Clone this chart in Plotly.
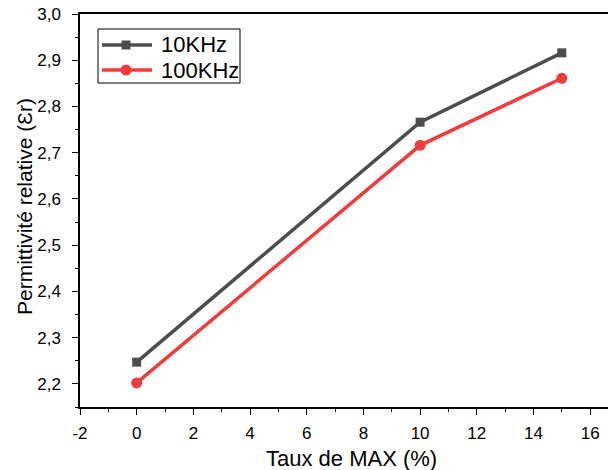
import plotly.graph_objects as go

taux = [0, 10, 15]
eps_10k = [2.247, 2.766, 2.916]
eps_100k = [2.202, 2.716, 2.861]
series_names = ["10KHz", "100KHz"]
x_ticks = [-2, 0, 2, 4, 6, 8, 10, 12, 14, 16]
x_ticklabels = ["-2", "0", "2", "4", "6", "8", "10", "12", "14", "16"]
y_ticks = [2.2, 2.3, 2.4, 2.5, 2.6, 2.7, 2.8, 2.9, 3.0]
y_ticklabels = ["2,2", "2,3", "2,4", "2,5", "2,6", "2,7", "2,8", "2,9", "3,0"]

W, H = 608, 470
L, T, B = 80, 14, 63
pw = W - L
ph = H - T - B
GRAY = "#4d4d4d"
RED = "#f03c3c"


def px(x):
    return (x - L) / pw


def py(y):
    return (H - B - y) / ph


fig = go.Figure()
fig.add_trace(go.Scatter(x=taux, y=eps_10k, mode="lines+markers", name=series_names[0],
                         line=dict(color=GRAY, width=3.5),
                         marker=dict(symbol="square", size=9, color=GRAY)))
fig.add_trace(go.Scatter(x=taux, y=eps_100k, mode="lines+markers", name=series_names[1],
                         line=dict(color=RED, width=3.5),
                         marker=dict(symbol="circle", size=11, color=RED)))

axis_common = dict(showline=True, linecolor="black", linewidth=1.5, ticks="outside",
                   ticklen=6, tickwidth=1.2, tickcolor="black", showgrid=False,
                   zeroline=False, automargin=False, ticklabeloverflow="allow",
                   tickfont=dict(family="Arial, Liberation Sans", size=17, color="black"))

# legend drawn by hand (box, sample lines, sample markers, labels)
shapes = [
    dict(type="rect", xref="paper", yref="paper", x0=px(98), x1=px(240), y0=py(29), y1=py(83),
         line=dict(color="black", width=1), fillcolor="white", layer="above"),
]
annotations = []
for name, col, sym, ycen in [(series_names[0], GRAY, "rect", 45), (series_names[1], RED, "circle", 70)]:
    shapes.append(dict(type="line", xref="paper", yref="paper", x0=px(102), x1=px(152),
                       y0=py(ycen), y1=py(ycen), line=dict(color=col, width=3.5), layer="above"))
    r = 4.5 if sym == "rect" else 5.5
    shapes.append(dict(type=sym, xref="paper", yref="paper", x0=px(126 - r), x1=px(126 + r),
                       y0=py(ycen - r), y1=py(ycen + r), line=dict(color=col, width=0),
                       fillcolor=col, layer="above"))
    annotations.append(dict(text=name, xref="paper", yref="paper", x=px(159), y=py(ycen),
                            xanchor="left", yanchor="middle", showarrow=False,
                            font=dict(size=22)))

annotations += [
    dict(text="Taux de MAX (%)", xref="paper", yref="paper", x=px(351),
         y=py(458), xanchor="center", yanchor="middle", showarrow=False,
         font=dict(size=22)),
    dict(text="Permittivité relative (Ɛr)", xref="paper", yref="paper",
         x=px(24), y=py(207), xanchor="center", yanchor="middle",
         textangle=-90, showarrow=False, font=dict(size=21)),
]

fig.update_layout(
    width=W, height=H,
    margin=dict(l=L, r=0, t=T, b=B, autoexpand=False),
    paper_bgcolor="white", plot_bgcolor="white",
    font=dict(family="Arial, Liberation Sans", color="black"),
    xaxis=dict(range=[-2, 16.63], tickvals=x_ticks, ticktext=x_ticklabels, mirror=True,
               ticklabelstandoff=4,
               minor=dict(ticks="outside", ticklen=3, dtick=1, tickcolor="black"),
               **axis_common),
    yaxis=dict(range=[2.15, 3.0], tickvals=y_ticks, ticktext=y_ticklabels, mirror=False,
               ticklabelstandoff=8,
               minor=dict(ticks="outside", ticklen=3, dtick=0.05, tickcolor="black"),
               **axis_common),
    showlegend=False,
    shapes=shapes,
    annotations=annotations,
)

fig.write_html("out.html", config={"displayModeBar": False},
               post_script="document.body.style.margin='0';document.body.style.overflow='hidden';")
